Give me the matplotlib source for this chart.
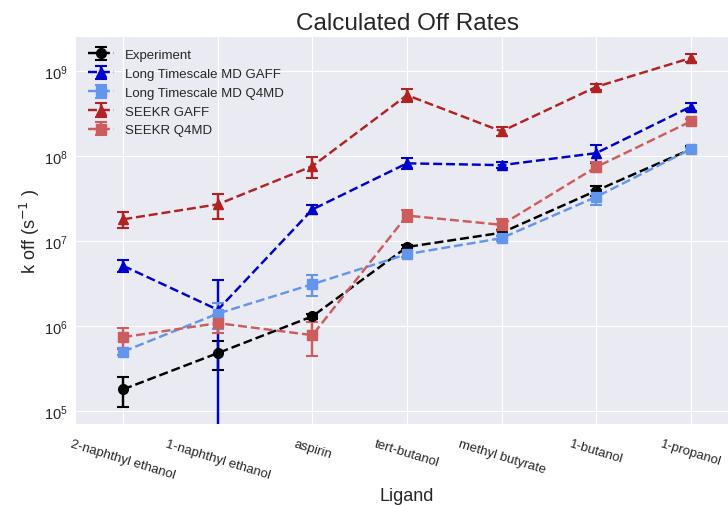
import matplotlib
matplotlib.use("Agg")
import matplotlib.pyplot as plt

ligands = ['2-naphthyl ethanol', '1-naphthyl ethanol', 'aspirin', 'tert-butanol',
           'methyl butyrate', '1-butanol', '1-propanol']

experiment = [1.8e5, 4.8e5, 1.3e6, 8.5e6, 1.25e7, 3.9e7, 1.2e8]
experiment_err = [7e4, 1.8e5, 1e5, 5e5, 1e6, 5e6, 1e7]

ltmd_gaff = [5.1e6, 1.55e6, 2.35e7, 8.2e7, 7.8e7, 1.08e8, 3.8e8]
ltmd_gaff_err = [8e5, 1.9e6, 3e6, 1.2e7, 6e6, 2.5e7, 4e7]

ltmd_q4md = [5.0e5, 1.4e6, 3.1e6, 7.0e6, 1.08e7, 3.3e7, 1.2e8]
ltmd_q4md_err = [5e4, 4.8e5, 8.5e5, 5e5, 8e5, 6.5e6, 5e6]

seekr_gaff = [1.8e7, 2.7e7, 7.6e7, 5.2e8, 1.95e8, 6.5e8, 1.42e9]
seekr_gaff_err = [3.7e6, 9e6, 2.1e7, 9e7, 2.5e7, 6e7, 1.5e8]

seekr_q4md = [7.4e5, 1.08e6, 7.8e5, 1.99e7, 1.55e7, 7.4e7, 2.55e8]
seekr_q4md_err = [2.1e5, 2.5e5, 3.4e5, 3e6, 2.5e6, 1e7, 1.5e7]

plt.style.use('seaborn-v0_8-darkgrid')
plt.rcParams['font.family'] = ['Liberation Sans', 'DejaVu Sans']

fig = plt.figure(figsize=(7.28, 5.06), dpi=100)
ax = fig.add_axes([76 / 728, 81 / 506, 662 / 728, 387 / 506])

x = list(range(len(ligands)))
series = [
    (experiment, experiment_err, 'o', 'black', 'Experiment'),
    (ltmd_gaff, ltmd_gaff_err, '^', 'mediumblue', 'Long Timescale MD GAFF'),
    (ltmd_q4md, ltmd_q4md_err, 's', 'cornflowerblue', 'Long Timescale MD Q4MD'),
    (seekr_gaff, seekr_gaff_err, '^', 'firebrick', 'SEEKR GAFF'),
    (seekr_q4md, seekr_q4md_err, 's', 'indianred', 'SEEKR Q4MD'),
]
for vals, errs, marker, color, label in series:
    ax.errorbar(x, vals, yerr=errs, fmt='--' + marker, color=color, label=label,
                lw=1.75, ms=7, capsize=4, capthick=1.5, elinewidth=1.75)

ax.set_yscale('log')
ax.set_xlim(-0.5, 6.5)
ax.set_ylim(7.03e4, 2.51e9)
ax.set_xticks(x)
ax.set_xticklabels(ligands, rotation=-17, ha='center', fontsize=9.5)
ax.tick_params(axis='x', pad=10)
ax.tick_params(axis='y', labelsize=10.5, pad=6)

ax.set_title('Calculated Off Rates', fontsize=17.5)
ax.set_xlabel('Ligand', fontsize=13)
ax.xaxis.set_label_coords(0.5, -0.163)
ax.set_ylabel('k off (s$^{-1}$ )', fontsize=13)
ax.yaxis.set_label_coords(-0.052, 0.5)
ax.legend(loc='upper left', fontsize=9.5, frameon=False, handletextpad=0.8,
          labelspacing=0.5)

fig.savefig('out.png', dpi=100)
